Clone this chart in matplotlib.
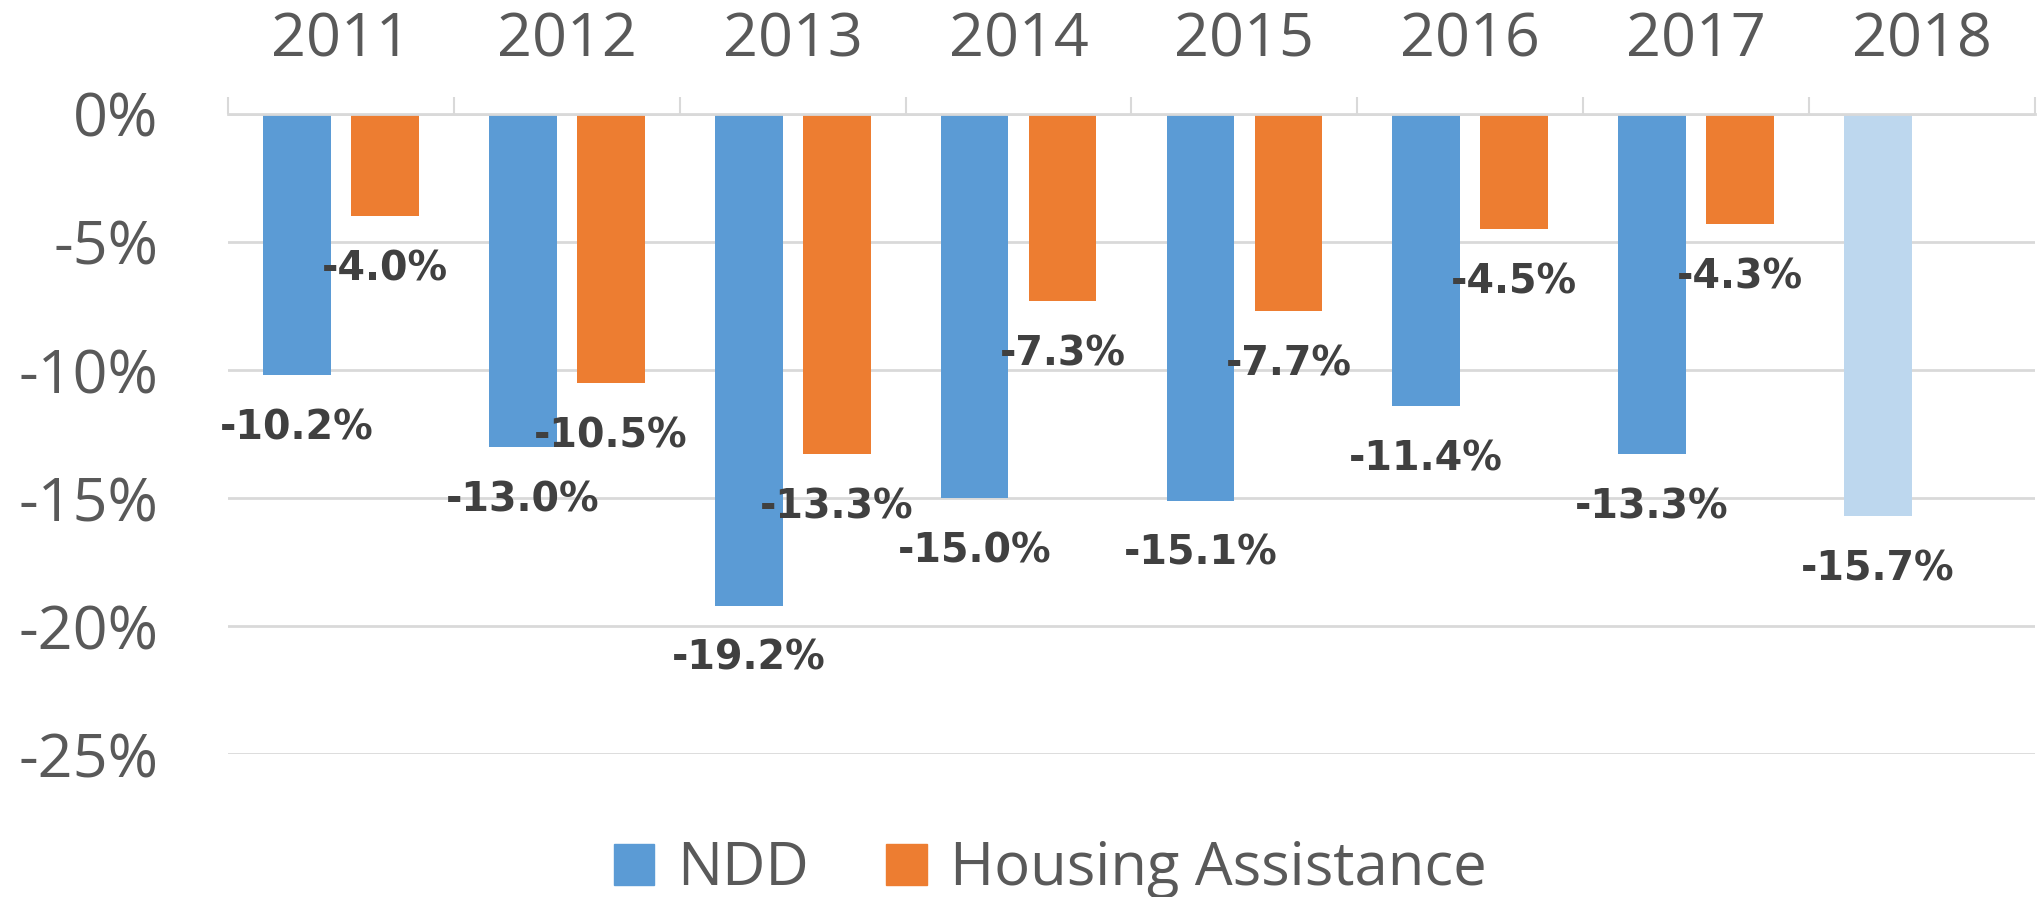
import matplotlib
matplotlib.use("Agg")
from matplotlib import pyplot as plt
from matplotlib.patches import Patch
import numpy as np

# Define data.
years = ['2011', '2012', '2013', '2014', '2015', '2016', '2017', '2018']
ndd = [-10.2, -13.0, -19.2, -15.0, -15.1, -11.4, -13.3, -15.7]
housing = [-4.0, -10.5, -13.3, -7.3, -7.7, -4.5, -4.3]  # no 2018 value
yticks = [0, -5, -10, -15, -20, -25]

blue = '#5B9BD5'
light_blue = '#BDD7EE'
orange = '#ED7D31'
grey_text = '#595959'
label_text = '#404040'
grid_col = '#D9D9D9'

plt.rcParams['font.family'] = ['Open Sans', 'DejaVu Sans']

fig = plt.figure(figsize=(20.4, 8.97), dpi=100)
ax = fig.add_axes([228/2040, 1 - 754/897, (2035 - 228)/2040, (754 - 114)/897])

x = np.arange(len(years))
w = 0.30
off = 0.195

# Make bars.
ndd_colors = [blue] * (len(years) - 1) + [light_blue]
ax.bar(x - off, ndd, width=w, color=ndd_colors, zorder=2)
xh = x[:len(housing)]
ax.bar(xh + off, housing, width=w, color=orange, zorder=2)

# Data labels below bar ends.
for xi, v in zip(x - off, ndd):
    ax.annotate(f'{v:.1f}%', (xi, v), xytext=(0, -24), textcoords='offset points',
                ha='center', va='top', fontsize=28.5, fontweight='bold',
                color=label_text, family='DejaVu Sans', zorder=4)
for xi, v in zip(xh + off, housing):
    ax.annotate(f'{v:.1f}%', (xi, v), xytext=(0, -24), textcoords='offset points',
                ha='center', va='top', fontsize=28.5, fontweight='bold',
                color=label_text, family='DejaVu Sans', zorder=4)

# Axes styling.
ax.set_xlim(-0.5, len(years) - 0.5)
ax.set_ylim(-25, 0)
ax.set_yticks(yticks)
ax.set_yticklabels([f'{t}%' for t in yticks])
ax.yaxis.grid(True, color=grid_col, linewidth=2, zorder=0)
ax.tick_params(axis='y', length=0, pad=50, labelsize=44, labelcolor=grey_text)

ax.xaxis.tick_top()
ax.set_xticks(x)
ax.set_xticklabels(years)
ax.set_xticks(np.arange(len(years) + 1) - 0.5, minor=True)
ax.tick_params(axis='x', which='major', length=0, pad=31, labelsize=44, labelcolor=grey_text)
ax.tick_params(axis='x', which='minor', length=12, width=1.5, color=grid_col, top=True, bottom=False)

for side in ['left', 'right', 'bottom']:
    ax.spines[side].set_visible(False)
ax.spines['top'].set_color(grid_col)
ax.spines['top'].set_linewidth(2)

# Legend.
handles = [Patch(color=blue, label='NDD'), Patch(color=orange, label='Housing Assistance')]
fig.legend(handles=handles, loc='center', bbox_to_anchor=(1050/2040, 1 - 869/897),
           ncol=2, frameon=False, fontsize=43, labelcolor=grey_text,
           handlelength=0.68, handleheight=0.68, handletextpad=0.38, columnspacing=1.3)

fig.savefig('out.png', dpi=100)
